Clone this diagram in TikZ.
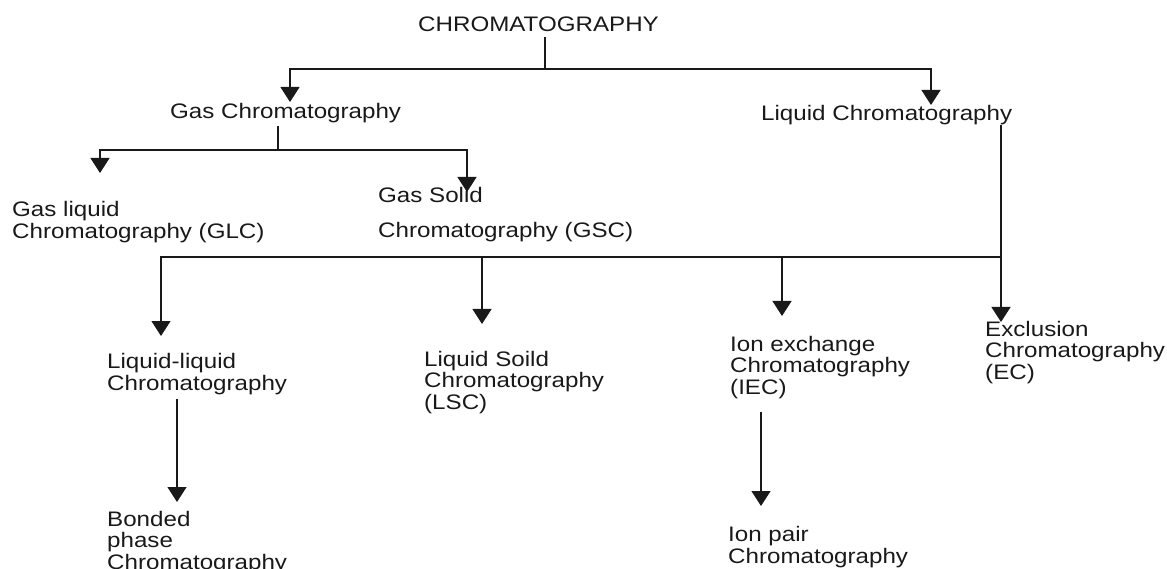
\documentclass[tikz,border=0pt]{standalone}
\usepackage{fontspec}
\setmainfont{Liberation Sans}[FakeStretch=1.15]
\usetikzlibrary{arrows.meta}
\newcommand{\lines}[1]{\begin{tabular}[t]{@{}l@{}}#1\end{tabular}}
\begin{document}
\begin{tikzpicture}[x=1pt,y=-1pt,
  label/.style={anchor=base west, inner sep=0pt, text=black!90,
    font=\fontsize{21}{21}\selectfont},
  link/.style={line width=1.3pt, draw=black!90},
  arrow/.style={link, -{Triangle[width=19pt,length=15pt]}},
]
\useasboundingbox (0,0) rectangle (1167,569);

% class names
\node[label] (root) at (418,32)  {CHROMATOGRAPHY};
\node[label] (gas)  at (170,119) {Gas Chromatography};
\node[label] (liq)  at (761,121) {Liquid Chromatography};
\node[label] (glc)  at (12,217)  {\lines{Gas liquid\\Chromatography (GLC)}};
\node[label] (gsc)  at (378,203) {\lines{Gas Solid\\[13pt]Chromatography (GSC)}};
\node[label] (ll)   at (107,368) {\lines{Liquid-liquid\\[1pt]Chromatography}};
\node[label] (lsc)  at (424,366) {\lines{Liquid Soild\\Chromatography\\(LSC)}};
\node[label] (iec)  at (730,351) {\lines{Ion exchange\\Chromatography\\(IEC)}};
\node[label] (ec)   at (985,336) {\lines{Exclusion\\Chromatography\\(EC)}};
\node[label] (bp)   at (107,526) {\lines{Bonded\\phase\\Chromatography}};
\node[label] (ip)   at (728,541) {\lines{Ion pair\\[1pt]Chromatography}};

% branch points and arrow ends
\coordinate (root-out) at (545,37);
\coordinate (bus1)     at (545,69);
\coordinate (gas-in)   at (290,102);
\coordinate (liq-in)   at (931,105);
\coordinate (gas-out)  at (278,126);
\coordinate (bus2)     at (278,150);
\coordinate (glc-in)   at (100,173);
\coordinate (gsc-in)   at (467,192);
\coordinate (liq-out)  at (1001,125);
\coordinate (bus3)     at (1001,257);
\coordinate (ll-in)    at (161,336);
\coordinate (lsc-in)   at (482,324);
\coordinate (iec-in)   at (782,316);
\coordinate (ec-in)    at (1001,322);
\coordinate (ll-out)   at (177,399);
\coordinate (bp-in)    at (177,502);
\coordinate (iec-out)  at (761,412);
\coordinate (ip-in)    at (761,506);

% chromatography -> gas / liquid
\draw[link]  (root-out) -- (bus1);
\draw[arrow] (bus1) -| (gas-in);
\draw[arrow] (bus1) -| (liq-in);

% gas chromatography -> GLC / GSC
\draw[link]  (gas-out) -- (bus2);
\draw[arrow] (bus2) -| (glc-in);
\draw[arrow] (bus2) -| (gsc-in);

% liquid chromatography -> four kinds
\draw[link]  (liq-out) -- (bus3);
\draw[arrow] (bus3) -| (ll-in);
\draw[arrow] (bus3) -| (lsc-in);
\draw[arrow] (bus3) -| (iec-in);
\draw[arrow] (bus3) -- (ec-in);

% further subdivisions
\draw[arrow] (ll-out) -- (bp-in);
\draw[arrow] (iec-out) -- (ip-in);
\end{tikzpicture}
\end{document}
